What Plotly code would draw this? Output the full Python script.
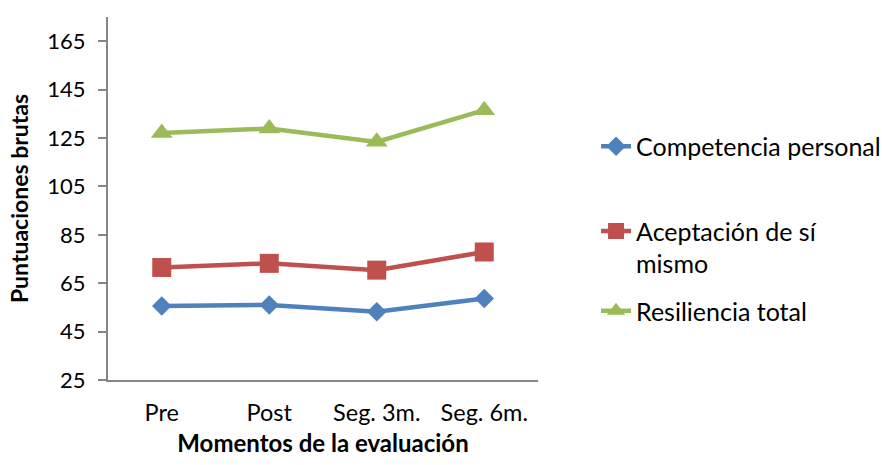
import plotly.graph_objects as go

# Evaluation moments (categories)
momentos = ["Pre", "Post", "Seg. 3m.", "Seg. 6m."]

# Mean raw scores per scale
competencia_personal = [55.6, 56.0, 53.2, 58.7]
aceptacion_si_mismo = [71.5, 73.2, 70.4, 77.9]
resiliencia_total = [127.1, 128.9, 123.4, 136.5]

y_ticks = [25, 45, 65, 85, 105, 125, 145, 165]

FONT = "Lato"
AXIS_GREY = "#868686"

# name, values, colour, marker symbol, marker size, legend id, legend y
series = [
    ("Competencia personal", competencia_personal, "#4F81BD", "diamond", 15, "legend", 0.643),
    ("Aceptación de sí<br>mismo", aceptacion_si_mismo, "#C0504D", "square", 19, "legend2", 0.366),
    ("Resiliencia total", resiliencia_total, "#9BBB59", "triangle-up", 19, "legend3", 0.19),
]

fig = go.Figure()
for name, vals, color, symbol, size, leg, _ in series:
    fig.add_trace(
        go.Scatter(
            x=momentos,
            y=vals,
            name=name,
            legend=leg,
            showlegend=True,
            mode="lines+markers",
            line=dict(color=color, width=4.5),
            marker=dict(symbol=symbol, size=size, color=color),
        )
    )

legend_style = dict(
    x=1.135,
    xanchor="left",
    yanchor="middle",
    font=dict(family=FONT, size=25, color="#000000"),
    itemwidth=30,
    bgcolor="rgba(0,0,0,0)",
    borderwidth=0,
    valign="top",
)
legends = {}
for _, _, _, _, _, leg, ly in series:
    legends[leg] = dict(legend_style, y=ly)

fig.update_layout(
    width=882,
    height=465,
    margin=dict(l=108, r=344, t=17, b=85, autoexpand=False),
    paper_bgcolor="white",
    plot_bgcolor="white",
    showlegend=True,
    font=dict(family=FONT, size=25, color="#000000"),
    **legends,
    xaxis=dict(
        type="category",
        range=[-0.5, 3.5],
        showline=True,
        linecolor=AXIS_GREY,
        linewidth=2,
        showgrid=False,
        zeroline=False,
        ticks="",
        ticklabelstandoff=11,
        tickfont=dict(family=FONT, size=23.5),
        title=dict(
            text="<b>Momentos de la evaluación</b>",
            font=dict(family=FONT, size=24),
            standoff=10,
        ),
    ),
    yaxis=dict(
        range=[25, 175],
        tickvals=y_ticks,
        showline=True,
        linecolor=AXIS_GREY,
        linewidth=2,
        showgrid=False,
        zeroline=False,
        ticks="outside",
        ticklen=8,
        tickwidth=2,
        tickcolor=AXIS_GREY,
        ticklabelstandoff=8,
        tickfont=dict(family=FONT, size=22),
        title=dict(
            text="<b>Puntuaciones brutas</b>",
            font=dict(family=FONT, size=23),
            standoff=12,
        ),
    ),
)

fig.write_html("out.html")
